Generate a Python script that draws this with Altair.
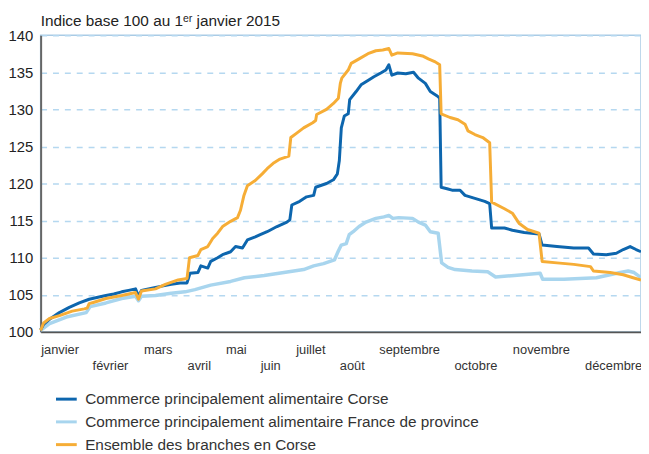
import altair as alt
import pandas as pd

# ---- data (day of year 2015, index base 100 on 1 Jan) ----
days_corse = [0, 1.8, 5.4, 11.4, 17.4, 23.5, 29.5, 35.5, 39.7, 44.5, 49.3, 53.5, 57.7, 59.5, 61.3, 65.5,
              69.8, 74.6, 79.4, 84.8, 89, 90.8, 95.6, 97.4, 101.6, 103.4, 107.6, 110.6, 115.5, 118.5,
              122.7, 125.7, 130.5, 133.5, 137.7, 143.7, 149.7, 151.5, 152.7, 157.5, 161.7, 166, 167.2,
              173.8, 178, 180.4, 181.6, 182.8, 184.6, 187, 187.9, 191.8, 194.8, 199, 202.6, 206.8, 209.9,
              211.7, 213.5, 217.1, 222, 226.7, 229.7, 233.9, 236.9, 241.1, 242.6, 243.5, 247.1, 250.1,
              255, 258, 264, 270, 273, 274.2, 282, 286.8, 294, 303, 304.9, 313.9, 324.1, 333.1, 336.1,
              343.9, 350, 354.2, 358.4, 362, 365]
vals_corse = [100.3, 101.0, 101.7, 102.6, 103.3, 103.9, 104.4, 104.7, 104.9, 105.1, 105.4, 105.6, 105.8,
              104.8, 105.6, 105.8, 106.0, 106.2, 106.4, 106.6, 106.6, 107.9, 108.0, 108.9, 108.6, 109.5,
              110.0, 110.4, 110.8, 111.5, 111.3, 112.4, 112.8, 113.1, 113.5, 114.2, 114.8, 115.1, 117.1,
              117.6, 118.2, 118.4, 119.5, 120.0, 120.5, 121.3, 123.1, 127.5, 129.1, 129.4, 131.3, 132.4,
              133.3, 133.9, 134.4, 134.9, 135.3, 136.0, 134.6, 134.9, 134.8, 135.0, 134.2, 133.5, 132.4,
              131.8, 131.5, 119.5, 119.3, 119.1, 119.1, 118.4, 118.0, 117.6, 117.3, 114.0, 114.0, 113.7,
              113.4, 113.2, 111.7, 111.5, 111.3, 111.3, 110.5, 110.4, 110.6, 111.1, 111.5, 111.1, 110.8]

days_prov = [0, 5.4, 15.6, 27.7, 30.1, 39.7, 49.3, 57.7, 59.5, 61.3, 69.8, 79.4, 87.8, 93.8, 103.4, 115.5,
             123.9, 135.9, 147.9, 159.9, 166, 172, 178.6, 181, 182.8, 185.8, 187.6, 190, 193.6, 197.8,
             203.8, 208.7, 211.7, 214.1, 217.7, 226.1, 229.7, 233.9, 236.9, 241.7, 243.8, 247.7, 252,
             262.2, 271.8, 276.6, 288, 303.7, 305.2, 318.1, 337.9, 352.4, 357.2, 360.8, 365]
vals_prov = [100.2, 101.1, 102.0, 102.6, 103.4, 103.9, 104.5, 104.8, 104.2, 104.8, 104.9, 105.2, 105.4,
             105.7, 106.3, 106.8, 107.3, 107.6, 108.0, 108.4, 108.9, 109.2, 109.7, 110.9, 111.7, 111.9,
             113.1, 113.5, 114.2, 114.8, 115.3, 115.5, 115.7, 115.3, 115.4, 115.3, 114.8, 114.4, 113.5,
             113.3, 109.3, 108.7, 108.4, 108.2, 108.1, 107.4, 107.6, 107.9, 107.1, 107.1, 107.3, 108.0,
             108.2, 108.0, 107.3]

days_ens = [0, 1.8, 5.4, 11.4, 19.2, 26.5, 28.3, 29.5, 32.5, 39.7, 49.3, 57.7, 59.5, 61.3, 69.8, 75.8,
            83.6, 89, 90.5, 95.6, 97.4, 101.6, 104.6, 107.6, 110.6, 115.5, 119.7, 121.5, 123.6, 125.7,
            130.5, 134.7, 137.7, 141.9, 145.5, 150.9, 152.1, 155.7, 159.9, 165.4, 167.2, 167.8, 173.8,
            178, 181, 182.2, 183.1, 187, 188.8, 193.6, 199, 203.8, 208, 211.7, 213.5, 217.1, 226.1,
            232.1, 235.7, 239.9, 242.6, 243.5, 248.9, 253.7, 258, 259.8, 264, 268.8, 273, 274.2, 282,
            286.8, 291, 296, 303, 304.9, 313.9, 324.1, 334.3, 336.1, 346.3, 354.2, 360.2, 365]
vals_ens = [100.2, 101.2, 101.8, 102.2, 102.8, 103.1, 103.2, 103.8, 104.0, 104.5, 104.9, 105.3, 104.4,
            105.5, 105.8, 106.4, 107.0, 107.2, 110.0, 110.3, 111.1, 111.5, 112.6, 113.3, 114.2, 114.9,
            115.4, 116.4, 118.4, 119.7, 120.4, 121.3, 122.0, 122.8, 123.3, 123.7, 126.2, 126.8, 127.5,
            128.2, 128.5, 129.3, 130.0, 130.8, 131.5, 133.5, 134.2, 135.3, 136.2, 136.8, 137.5, 137.9,
            138.0, 138.2, 137.3, 137.6, 137.5, 137.2, 136.8, 136.4, 136.0, 129.4, 128.9, 128.6, 128.0,
            127.1, 126.6, 126.2, 125.5, 117.5, 116.6, 116.0, 114.6, 113.8, 113.3, 109.5, 109.3, 109.1,
            108.8, 108.2, 108.0, 107.7, 107.3, 107.0]

series_names = ["Commerce principalement alimentaire Corse",
                "Commerce principalement alimentaire France de province",
                "Ensemble des branches en Corse"]
series_colors = ["#0d66ae", "#a8d5ee", "#f6ad36"]

month_names = ["janvier", "février", "mars", "avril", "mai", "juin", "juillet", "août",
               "septembre", "octobre", "novembre", "décembre"]
month_pos = [0, 31.3, 62.5, 89, 112.4, 133.5, 155.1, 181.6, 205.6, 251.3, 286.8, 330.7]
y_ticks = [100, 105, 110, 115, 120, 125, 130, 135, 140]

frames = []
for name, d, v in zip(series_names, [days_corse, days_prov, days_ens], [vals_corse, vals_prov, vals_ens]):
    frames.append(pd.DataFrame({"jour": d, "indice": v, "serie": name}))
df = pd.concat(frames, ignore_index=True)

FONT = "Liberation Sans, Arial, sans-serif"

# labels: every second month on a second line
lab_items = []
for i, n in enumerate(month_names):
    lab_items.append(f"'{n}'" if i % 2 == 0 else f"['', '{n}']")
label_expr = "[" + ",".join(lab_items) + "][indexof([" + ",".join(str(p) for p in month_pos) + "], datum.value)]"

x_enc = alt.X("jour:Q", scale=alt.Scale(domain=[0, 365], nice=False, zero=False),
              axis=alt.Axis(values=month_pos, labelExpr=label_expr, title=None, ticks=False, grid=False,
                            labelAlign="left", labelBaseline="top", labelPadding=12, labelLineHeight=16,
                            labelOverlap=False, labelFlush=False, labelBound=False,
                            labelFont=FONT, labelFontSize=13, labelColor="#333333",
                            domainColor="#555555", domainWidth=2))
y_enc = alt.Y("indice:Q", scale=alt.Scale(domain=[100, 140], nice=False, zero=False),
              axis=alt.Axis(values=y_ticks, title=None, ticks=False, grid=True,
                            gridColor="#b5d8f0", gridDash=[6, 6], gridWidth=1.5,
                            labelFont=FONT, labelFontSize=15, labelColor="#222222", labelPadding=8,
                            domainColor="#666666", domainWidth=2))
color_enc = alt.Color("serie:N", scale=alt.Scale(domain=series_names, range=series_colors),
                      legend=alt.Legend(title=None, orient="none", legendX=14, legendY=356,
                                        symbolType="stroke", symbolSize=441, symbolStrokeWidth=3,
                                        labelFont=FONT, labelFontSize=15.5, labelColor="#333333",
                                        labelOffset=7, rowPadding=2, padding=0, labelLimit=600))

layers = []
for name, w in zip([series_names[1], series_names[0], series_names[2]], [3.5, 3, 3]):
    layers.append(
        alt.Chart(df).transform_filter(alt.datum.serie == name)
        .mark_line(strokeWidth=w, strokeJoin="round")
        .encode(x=x_enc, y=y_enc, color=color_enc)
    )

chart = alt.layer(*layers).properties(
    width=607, height=300,
    autosize=alt.AutoSizeParams(type="none"),
    padding={"left": 33, "top": 25, "right": 0, "bottom": 120},
    title=alt.TitleParams("Indice base 100 au 1ᵉʳ janvier 2015", anchor="start", frame="group",
                          font=FONT, fontSize=15.5, fontWeight="normal", color="#222222", offset=-1),
).configure_view(stroke="#a9cbe5", strokeWidth=1.5)

chart.save("out.html", embed_options={"renderer": "svg", "actions": False})
